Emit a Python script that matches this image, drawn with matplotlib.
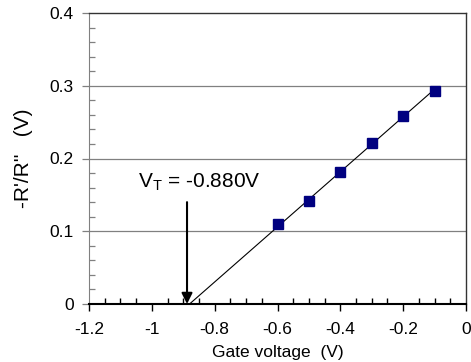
import matplotlib
matplotlib.use("Agg")
import matplotlib.pyplot as plt
import numpy as np
from matplotlib.ticker import MultipleLocator, FixedLocator

plt.rcParams['font.family'] = ['Liberation Sans', 'DejaVu Sans']

gate_voltage = [-0.6, -0.5, -0.4, -0.3, -0.2, -0.1]
ratio = [0.110, 0.142, 0.182, 0.221, 0.258, 0.293]
v_threshold = -0.880

xticks = [-1.2, -1.0, -0.8, -0.6, -0.4, -0.2, 0.0]
xtick_labels = ["-1.2", "-1", "-0.8", "-0.6", "-0.4", "-0.2", "0"]
yticks = [0.0, 0.1, 0.2, 0.3, 0.4]
ytick_labels = ["0", "0.1", "0.2", "0.3", "0.4"]

x = np.array(gate_voltage)
y = np.array(ratio)
# least-squares slope of a line through the threshold point
slope = np.sum((x - v_threshold) * y) / np.sum((x - v_threshold) ** 2)

fig = plt.figure(figsize=(4.71, 3.62), dpi=100)
ax = fig.add_axes([89 / 471, 1 - 304 / 362, (466 - 89) / 471, (304 - 13) / 362])

for yv in yticks[1:-1]:
    ax.axhline(yv, color="#808080", lw=0.9, zorder=1)

fit_x = np.array([v_threshold, x[-1]])
ax.plot(fit_x, slope * (fit_x - v_threshold), color="black", lw=0.8, zorder=2)
ax.plot(x, y, linestyle="none", marker="s", markersize=7.3,
        markerfacecolor="#000080", markeredgecolor="#000080", zorder=3)

ax.set_xlim(-1.2, 0.0)
ax.set_ylim(0.0, 0.4)
ax.xaxis.set_major_locator(FixedLocator(xticks))
ax.set_xticklabels(xtick_labels)
ax.xaxis.set_minor_locator(MultipleLocator(0.05))
ax.yaxis.set_major_locator(FixedLocator(yticks))
ax.set_yticklabels(ytick_labels)
ax.yaxis.set_minor_locator(MultipleLocator(0.02))

ax.tick_params(axis="x", which="major", direction="out", length=5, width=1,
               color="black", labelsize=12.5, pad=8)
ax.tick_params(axis="x", which="minor", direction="in", length=4, width=1, color="black")
ax.tick_params(axis="y", which="major", direction="out", length=5, width=0.9,
               color="#808080", labelsize=12.5, pad=6)
ax.tick_params(axis="y", which="minor", direction="in", length=4, width=0.9, color="#808080")

ax.spines["left"].set_color("#808080")
ax.spines["bottom"].set_linewidth(1.5)
for s in ("top", "right"):
    ax.spines[s].set_color("#333333")
    ax.spines[s].set_linewidth(1.0)

ax.set_xlabel("Gate voltage  (V)", fontsize=12.5, labelpad=6)
ax.set_ylabel("-R'/R''   (V)", fontsize=15, labelpad=12)

ax.annotate("", xy=(v_threshold - 0.008, 0.0), xytext=(v_threshold - 0.008, 0.140),
            arrowprops=dict(arrowstyle="-|>", color="black", lw=1.5,
                            mutation_scale=16, shrinkA=0, shrinkB=0), zorder=4)
ax.text(-1.045, 0.168, r"V$_\mathregular{T}$ = -0.880V", fontsize=15,
        ha="left", va="center")

fig.savefig("out.png", dpi=100)
